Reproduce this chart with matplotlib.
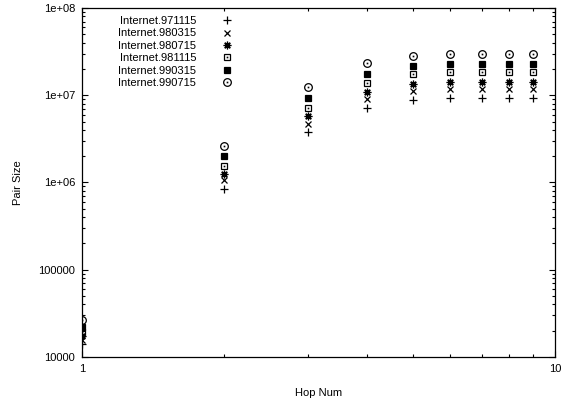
import matplotlib
matplotlib.use('Agg')
import matplotlib.pyplot as plt
from matplotlib.ticker import FixedLocator, FixedFormatter, LogLocator, NullFormatter
from matplotlib.legend_handler import HandlerTuple

plt.rcParams['font.family'] = ['Liberation Sans', 'DejaVu Sans']
plt.rcParams['font.size'] = 8

hops = [1, 2, 3, 4, 5, 6, 7, 8, 9]
labels = ['Internet.971115', 'Internet.980315', 'Internet.980715',
          'Internet.981115', 'Internet.990315', 'Internet.990715']
pair_971115 = [1.41e4, 8.4e5, 3.8e6, 7.1e6, 8.8e6, 9.3e6, 9.3e6, 9.3e6, 9.3e6]
pair_980315 = [1.57e4, 1.07e6, 4.7e6, 9.0e6, 1.11e7, 1.17e7, 1.17e7, 1.17e7, 1.17e7]
pair_980715 = [1.74e4, 1.25e6, 5.8e6, 1.08e7, 1.34e7, 1.41e7, 1.41e7, 1.41e7, 1.41e7]
pair_981115 = [1.93e4, 1.54e6, 7.1e6, 1.38e7, 1.75e7, 1.84e7, 1.84e7, 1.84e7, 1.84e7]
pair_990315 = [2.2e4, 2.0e6, 9.3e6, 1.75e7, 2.15e7, 2.27e7, 2.27e7, 2.27e7, 2.27e7]
pair_990715 = [2.65e4, 2.6e6, 1.24e7, 2.33e7, 2.8e7, 2.96e7, 2.96e7, 2.96e7, 2.96e7]
series = [pair_971115, pair_980315, pair_980715, pair_981115, pair_990315, pair_990715]

fig = plt.figure(figsize=(5.61, 4.0), dpi=100)
ax = fig.add_axes([82 / 561, 1 - 357 / 400, 473 / 561, 349 / 400])

styles = [
    dict(marker='+', ms=6, mew=0.9),
    dict(marker='x', ms=5, mew=0.9),
    dict(marker=(8, 2, 0), ms=5.5, mew=0.9),
    dict(marker='s', ms=5, mew=0.9, mfc='none'),
    dict(marker='s', ms=5, mew=0.9, mfc='black'),
    dict(marker='o', ms=5.5, mew=0.9, mfc='none'),
]
dotted = [False, False, False, True, False, True]

handles = []
for vals, st, dot in zip(series, styles, dotted):
    h, = ax.plot(hops, vals, ls='none', color='black', **st)
    if dot:
        d, = ax.plot(hops, vals, ls='none', color='black', marker='s', ms=1.2, mew=0)
        handles.append((h, d))
    else:
        handles.append(h)

ax.set_xscale('log')
ax.set_yscale('log')
ax.set_xlim(1, 10)
ax.set_ylim(1e4, 1e8)

ax.xaxis.set_major_locator(FixedLocator([1, 10]))
ax.xaxis.set_major_formatter(FixedFormatter(['1', '10']))
ax.xaxis.set_minor_locator(LogLocator(base=10, subs=range(2, 10)))
ax.xaxis.set_minor_formatter(NullFormatter())
ax.yaxis.set_major_locator(FixedLocator([1e4, 1e5, 1e6, 1e7, 1e8]))
ax.yaxis.set_major_formatter(FixedFormatter(['10000', '100000', '1e+06', '1e+07', '1e+08']))
ax.yaxis.set_minor_locator(LogLocator(base=10, subs=range(2, 10)))
ax.yaxis.set_minor_formatter(NullFormatter())

ax.tick_params(which='both', direction='in', top=True, right=True, width=0.8)
ax.tick_params(which='major', length=4, pad=5)
ax.tick_params(which='minor', length=2)
for s in ax.spines.values():
    s.set_linewidth(0.9)

ax.set_xlabel('Hop Num', labelpad=10)
ax.set_ylabel('Pair Size', labelpad=11)

ax.legend(handles, labels, loc='upper left', bbox_to_anchor=(118 / 561, 1 - 16 / 400),
          bbox_transform=fig.transFigure, frameon=False, markerfirst=False,
          numpoints=1, handlelength=1.0, handletextpad=2.3, labelspacing=0.22,
          borderpad=0, borderaxespad=0,
          handler_map={tuple: HandlerTuple(ndivide=1, pad=0)})

fig.savefig('out.png', dpi=100)
